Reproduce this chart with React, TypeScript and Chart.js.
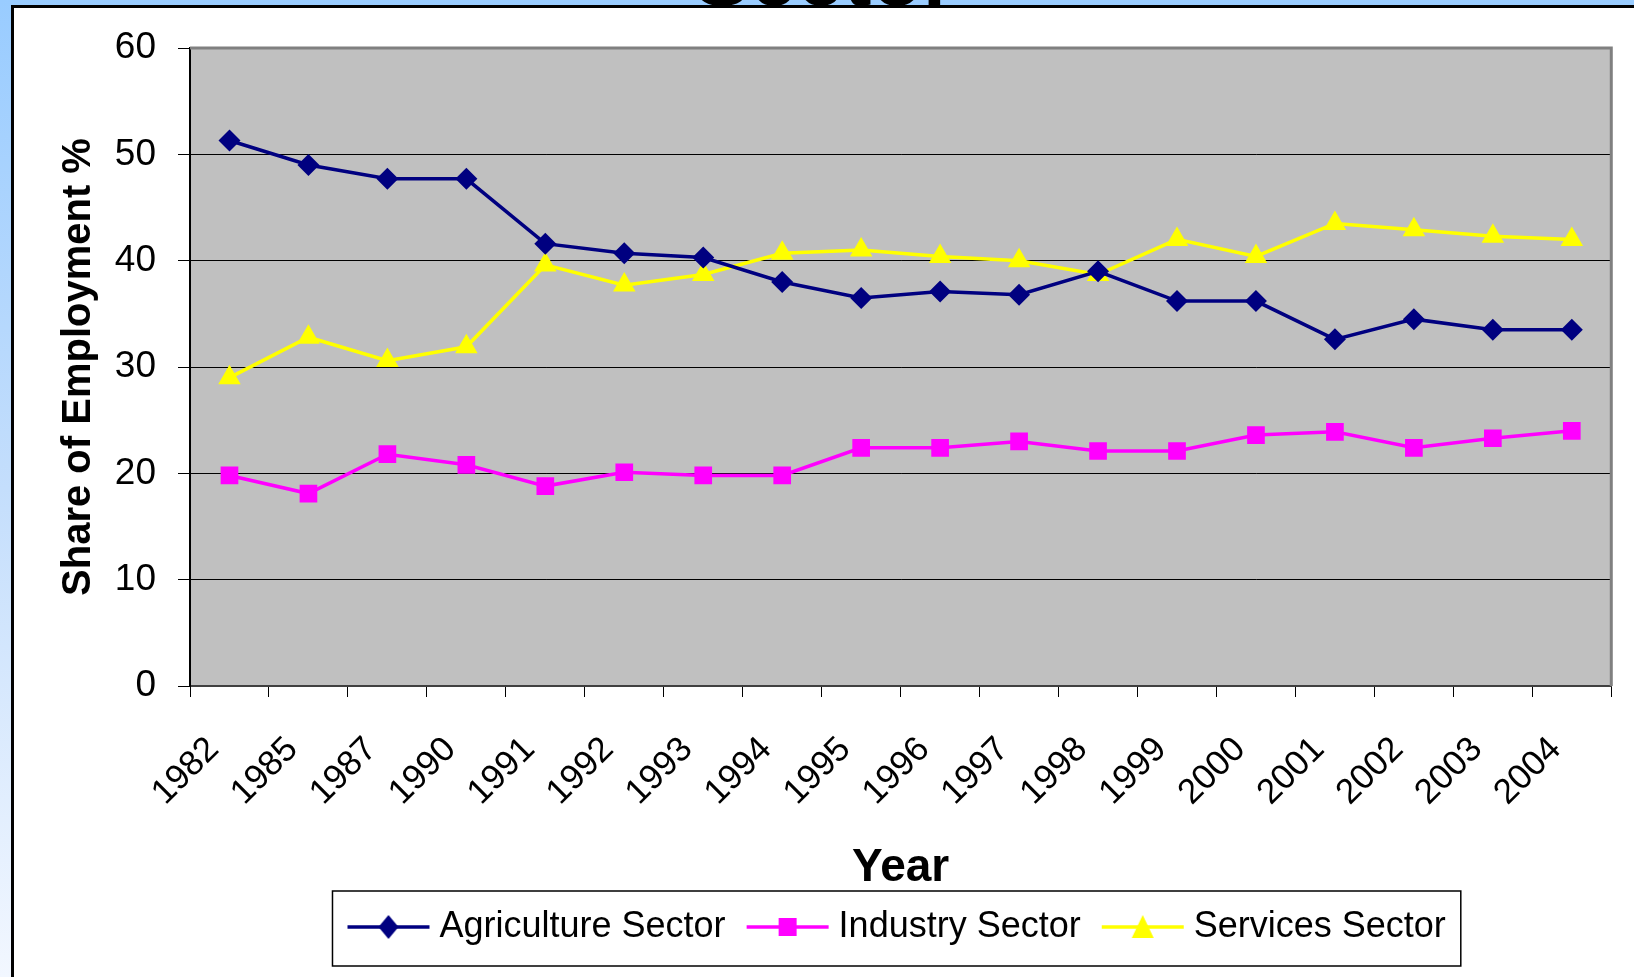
import React, { useEffect, useRef } from "react";
import { Chart, registerables } from "chart.js";

Chart.register(...registerables);

const years = ["1982", "1985", "1987", "1990", "1991", "1992", "1993", "1994", "1995", "1996", "1997", "1998", "1999", "2000", "2001", "2002", "2003", "2004"];
const agricultureShare = [51.3, 49.0, 47.7, 47.7, 41.6, 40.7, 40.3, 38.0, 36.5, 37.1, 36.8, 39.0, 36.2, 36.2, 32.6, 34.5, 33.5, 33.5];
const industryShare = [19.8, 18.1, 21.8, 20.8, 18.8, 20.1, 19.8, 19.8, 22.4, 22.4, 23.0, 22.1, 22.1, 23.6, 23.9, 22.4, 23.3, 24.0];
const servicesShare = [29.0, 32.8, 30.6, 31.9, 39.6, 37.7, 38.7, 40.7, 41.0, 40.4, 40.0, 38.7, 42.0, 40.4, 43.5, 42.9, 42.3, 42.0];
const seriesNames = ["Agriculture Sector", "Industry Sector", "Services Sector"];
const yTickValues = [0, 10, 20, 30, 40, 50, 60];
const yAxisTitle = "Share of Employment %";
const xAxisTitle = "Year";
const chartTitle = "Sector";

const NAVY = "#000080";
const MAGENTA = "#ff00ff";
const YELLOW = "#ffff00";
const SANS = "'Liberation Sans', Arial, sans-serif";

function makeLegendIcon(color: string, shape: string): HTMLCanvasElement {
  const c = document.createElement("canvas");
  c.width = 84;
  c.height = 26;
  const ctx = c.getContext("2d")!;
  const cx = 42, cy = 13;
  ctx.strokeStyle = color;
  ctx.lineWidth = 3.5;
  ctx.beginPath();
  ctx.moveTo(1, cy);
  ctx.lineTo(83, cy);
  ctx.stroke();
  ctx.fillStyle = color;
  ctx.beginPath();
  if (shape === "diamond") {
    ctx.moveTo(cx, cy - 12);
    ctx.lineTo(cx + 10, cy);
    ctx.lineTo(cx, cy + 12);
    ctx.lineTo(cx - 10, cy);
  } else if (shape === "square") {
    ctx.rect(cx - 9, cy - 9, 18, 18);
  } else {
    ctx.moveTo(cx, cy - 12);
    ctx.lineTo(cx + 11, cy + 11);
    ctx.lineTo(cx - 11, cy + 11);
  }
  ctx.closePath();
  ctx.fill();
  return c;
}

const plotAreaPlugin = {
  id: "plotAreaPlugin",
  beforeDraw(chart: any) {
    const { ctx, chartArea: a } = chart;
    ctx.save();
    ctx.fillStyle = "#c0c0c0";
    ctx.fillRect(a.left, a.top, a.right - a.left, a.bottom - a.top);
    ctx.restore();
  },
  beforeDatasetsDraw(chart: any) {
    const { ctx, chartArea: a } = chart;
    ctx.save();
    ctx.strokeStyle = "#808080";
    ctx.lineWidth = 3;
    ctx.beginPath();
    ctx.moveTo(a.left, a.top);
    ctx.lineTo(a.right, a.top);
    ctx.lineTo(a.right, a.bottom);
    ctx.stroke();
    ctx.restore();
  },
  afterDraw(chart: any) {
    const lg = chart.legend;
    if (!lg || !lg.legendHitBoxes || !lg.legendHitBoxes.length) return;
    const hb = lg.legendHitBoxes;
    const first = hb[0];
    const last = hb[hb.length - 1];
    const left = first.left - 23;
    const right = last.left + last.width + 15;
    const top = first.top - 18;
    const bottom = first.top + first.height + 21;
    const { ctx } = chart;
    ctx.save();
    ctx.strokeStyle = "#000";
    ctx.lineWidth = 1.5;
    ctx.strokeRect(left, top, right - left, bottom - top);
    ctx.restore();
  },
};

export default function App() {
  const canvasRef = useRef<HTMLCanvasElement | null>(null);

  useEffect(() => {
    const canvas = canvasRef.current;
    if (!canvas) return;
    const icons = [
      makeLegendIcon(NAVY, "diamond"),
      makeLegendIcon(MAGENTA, "square"),
      makeLegendIcon(YELLOW, "triangle"),
    ];
    const chart = new Chart(canvas, {
      type: "line",
      data: {
        labels: years,
        datasets: [
          {
            label: seriesNames[0],
            data: agricultureShare,
            borderColor: NAVY,
            backgroundColor: NAVY,
            borderWidth: 3.5,
            pointStyle: "rectRot",
            pointRadius: 11,
            pointBorderWidth: 0,
            tension: 0,
          },
          {
            label: seriesNames[1],
            data: industryShare,
            borderColor: MAGENTA,
            backgroundColor: MAGENTA,
            borderWidth: 3.5,
            pointStyle: "rect",
            pointRadius: 12.5,
            pointBorderWidth: 0,
            tension: 0,
          },
          {
            label: seriesNames[2],
            data: servicesShare,
            borderColor: YELLOW,
            backgroundColor: YELLOW,
            borderWidth: 3.5,
            pointStyle: "triangle",
            pointRadius: 13,
            pointBorderWidth: 0,
            tension: 0,
          },
        ],
      },
      options: {
        responsive: false,
        maintainAspectRatio: false,
        animation: false,
        layout: { padding: { left: 30, top: 48, right: 18, bottom: 22 } },
        plugins: {
          title: { display: false },
          tooltip: { enabled: false },
          legend: {
            display: true,
            position: "bottom",
            fullSize: false,
            labels: {
              usePointStyle: true,
              pointStyleWidth: 66,
              padding: 29,
              color: "#000",
              font: { family: SANS, size: 36 },
              generateLabels: (ch: any) =>
                ch.data.datasets.map((ds: any, i: number) => ({
                  text: ds.label,
                  pointStyle: icons[i],
                  fillStyle: ds.backgroundColor,
                  strokeStyle: ds.borderColor,
                  lineWidth: 0,
                  hidden: false,
                  datasetIndex: i,
                  fontColor: "#000",
                })),
            },
          },
        },
        scales: {
          x: {
            type: "category",
            offset: true,
            grid: {
              offset: true,
              drawOnChartArea: false,
              drawTicks: true,
              tickLength: 11,
              tickColor: "#000",
              tickWidth: 1,
            },
            border: { display: true, color: "#404040", width: 2 },
            ticks: {
              autoSkip: false,
              maxRotation: 45,
              minRotation: 45,
              padding: 32,
              labelOffset: -16,
              color: "#000",
              font: { family: SANS, size: 35 },
            },
            title: {
              display: true,
              text: xAxisTitle,
              color: "#000",
              font: { family: SANS, size: 46, weight: "bold", lineHeight: 1 },
              padding: { top: 0, bottom: -11 },
            },
            afterFit: (scale: any) => {
              scale.height = 194;
            },
          },
          y: {
            min: 0,
            max: 60,
            afterBuildTicks: (scale: any) => {
              scale.ticks = yTickValues.map((v) => ({ value: v }));
            },
            ticks: {
              padding: 22,
              color: "#000",
              font: { family: SANS, size: 37 },
            },
            grid: {
              color: "#000",
              lineWidth: 1,
              drawTicks: true,
              tickLength: 12,
              tickColor: "#000",
            },
            border: { display: true, color: "#000", width: 2 },
            title: {
              display: true,
              text: yAxisTitle,
              color: "#000",
              font: { family: SANS, size: 40, weight: "bold", lineHeight: 1 },
              padding: { top: 29, bottom: 0 },
            },
            afterFit: (scale: any) => {
              scale.width = 160;
            },
          },
        },
      },
      plugins: [plotAreaPlugin],
    } as any);
    return () => chart.destroy();
  }, []);

  return (
    <div
      style={{
        position: "absolute",
        left: 0,
        top: 0,
        width: 1634,
        height: 977,
        overflow: "hidden",
        background: "linear-gradient(to bottom, #99ccff 0%, #c4defc 50%, #f2f7ff 100%)",
      }}
    >
      <div
        style={{
          position: "absolute",
          left: 694,
          top: -66,
          fontFamily: SANS,
          fontWeight: "bold",
          fontSize: 84,
          lineHeight: "84px",
          color: "#000",
          whiteSpace: "nowrap",
        }}
      >
        {chartTitle}
      </div>
      <div
        style={{
          position: "absolute",
          left: 11,
          top: 5,
          width: 1640,
          height: 990,
          border: "3px solid #000",
          background: "#fff",
        }}
      />
      <canvas
        ref={canvasRef}
        width={1634}
        height={977}
        style={{ position: "absolute", left: 0, top: 0, width: 1634, height: 977 }}
      />
    </div>
  );
}
